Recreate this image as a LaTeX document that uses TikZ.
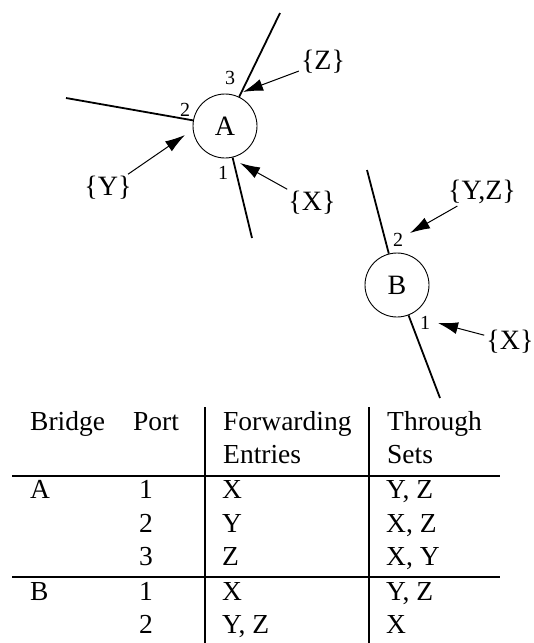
\documentclass[tikz,border=0pt]{standalone}
\usepackage{fontspec}
\setmainfont{Liberation Serif}
\usetikzlibrary{arrows.meta}
\begin{document}
\begin{tikzpicture}[x=1pt,y=-1pt,
  bridge/.style={circle,draw,line width=0.9pt,minimum size=64pt,inner sep=0pt,font=\fontsize{28}{30}\selectfont},
  seg/.style={line width=1.8pt},
  lbl/.style={font=\fontsize{28}{30}\selectfont,inner sep=2pt},
  portno/.style={font=\fontsize{20}{22}\selectfont,inner sep=0pt},
  arr/.style={line width=1pt,-{Latex[length=20pt,width=12pt]}},
  cell/.style={anchor=base west,inner sep=0pt,font=\fontsize{27.5}{30}\selectfont},
  num/.style={anchor=base,inner sep=0pt,font=\fontsize{27.5}{30}\selectfont},
  rulel/.style={line width=1.2pt}]
\useasboundingbox (0,0) rectangle (534,643);
% Bridge A
\node[bridge] (A) at (225,126) {A};
\coordinate (a3) at (280,13);
\coordinate (a2) at (66,98);
\coordinate (a1) at (252,238);
\draw[seg] (A) -- (a3);
\draw[seg] (A) -- (a2);
\draw[seg] (A) -- (a1);
\node[portno] (p3) at (230,78) {3};
\node[portno] (p2) at (185,110) {2};
\node[portno] (p1) at (223,173) {1};
\node[lbl] (Z) at (323,62) {\{Z\}};
\coordinate (zt) at (243,92);
\draw[arr] (Z) -- (zt);
\node[lbl] (Y) at (108,188) {\{Y\}};
\coordinate (yt) at (185,135);
\draw[arr] (Y) -- (yt);
\node[lbl] (X) at (312,203) {\{X\}};
\coordinate (xt) at (240,163);
\draw[arr] (X) -- (xt);
% Bridge B
\node[bridge] (B) at (397,285) {B};
\coordinate (b2) at (367,170);
\coordinate (b1) at (440,398);
\draw[seg] (B) -- (b2);
\draw[seg] (B) -- (b1);
\node[portno] (q2) at (398,240) {2};
\node[portno] (q1) at (425,323) {1};
\node[lbl] (YZ) at (482,192) {\{Y,Z\}};
\coordinate (yzt) at (410,233);
\draw[arr] (YZ) -- (yzt);
\node[lbl] (XB) at (510,342) {\{X\}};
\coordinate (xbt) at (438,323);
\draw[arr] (XB) -- (xbt);
% Table
\node[cell] (h1) at (30,430) {Bridge};
\node[cell] (h2) at (133,430) {Port};
\node[cell] (h3) at (223,430) {Forwarding};
\node[cell] (h3b) at (223,463) {Entries};
\node[cell] (h4) at (387,430) {Through};
\node[cell] (h4b) at (387,463) {Sets};
\node[cell] (rA) at (30,498) {A};
\node[num] (rA1) at (146,498) {1};
\node[cell] (fA1) at (222,498) {X};
\node[cell] (tA1) at (386,498) {Y, Z};
\node[num] (rA2) at (146,532) {2};
\node[cell] (fA2) at (222,532) {Y};
\node[cell] (tA2) at (386,532) {X, Z};
\node[num] (rA3) at (146,565) {3};
\node[cell] (fA3) at (222,565) {Z};
\node[cell] (tA3) at (386,565) {X, Y};
\node[cell] (rB) at (30,600) {B};
\node[num] (rB1) at (146,600) {1};
\node[cell] (fB1) at (222,600) {X};
\node[cell] (tB1) at (386,600) {Y, Z};
\node[num] (rB2) at (146,633) {2};
\node[cell] (fB2) at (222,633) {Y, Z};
\node[cell] (tB2) at (386,633) {X};
\draw[rulel] (12,476) -- (500,476);
\draw[rulel] (12,577) -- (500,577);
\draw[rulel] (205,407) -- (205,643);
\draw[rulel] (369,407) -- (369,643);
\end{tikzpicture}
\end{document}
